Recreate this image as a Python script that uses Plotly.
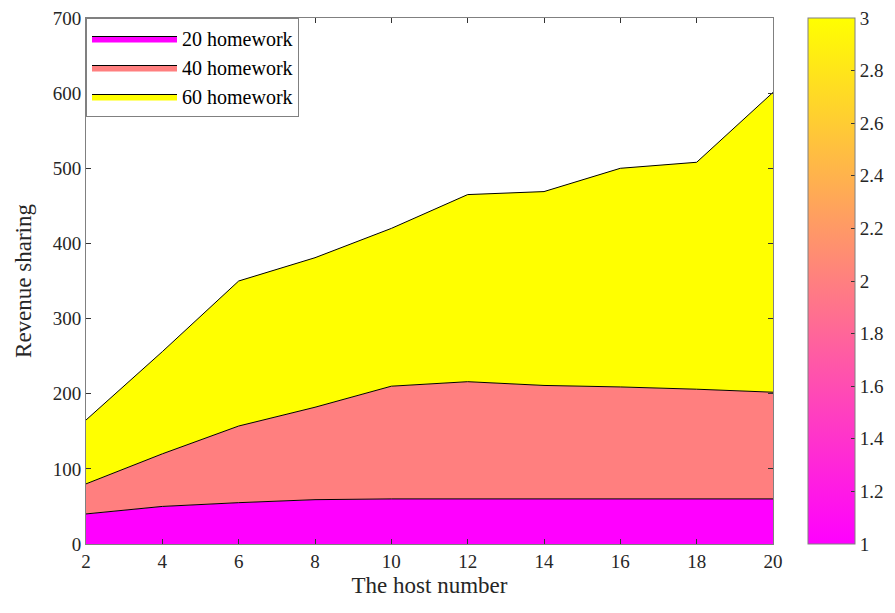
import plotly.graph_objects as go

hosts = [2, 4, 6, 8, 10, 12, 14, 16, 18, 20]
hw20 = [40, 50, 55, 59, 60, 60, 60, 60, 60, 60]
hw40 = [40, 70, 102, 123, 150, 156, 151, 149, 146, 142]
hw60 = [85, 136, 193, 199, 210, 249, 258, 291, 302, 399]
names = ["20 homework", "40 homework", "60 homework"]
colors = ["#FF00FF", "#FF7F7F", "#FFFF00"]
cbar_range = [1, 3]
cbar_ticks = [1, 1.2, 1.4, 1.6, 1.8, 2, 2.2, 2.4, 2.6, 2.8, 3]
x_ticks = [2, 4, 6, 8, 10, 12, 14, 16, 18, 20]
y_ticks = [0, 100, 200, 300, 400, 500, 600, 700]

FONT = "Liberation Serif"
TXT = "#262626"
AX = "#808080"

fig = go.Figure()
for name, vals, col in zip(names, [hw20, hw40, hw60], colors):
    fig.add_trace(go.Scatter(
        x=hosts, y=vals, name=name, mode="lines",
        stackgroup="one", fillcolor=col,
        line=dict(color="black", width=1),
    ))

fig.add_trace(go.Scatter(
    x=[None, None], y=[None, None], mode="markers", showlegend=False,
    marker=dict(
        color=cbar_range, cmin=cbar_range[0], cmax=cbar_range[1],
        colorscale=[[0, "#FF00FF"], [1, "#FFFF00"]], showscale=True,
        colorbar=dict(
            x=1.051, xanchor="left", y=0.5, yanchor="middle",
            len=1.0, lenmode="fraction", thickness=47, xpad=0, ypad=0,
            outlinecolor=AX, outlinewidth=1,
            ticks="inside", ticklen=4, tickcolor="#333333",
            tickvals=cbar_ticks, ticktext=[f"{v:g}" for v in cbar_ticks],
            tickfont=dict(family=FONT, size=19, color=TXT),
            ticklabeloverflow="allow",
        ),
    ),
))

fig.update_layout(
    width=887, height=605,
    margin=dict(l=78, r=122, t=10, b=69, autoexpand=False),
    plot_bgcolor="white", paper_bgcolor="white",
    font=dict(family=FONT, size=19, color=TXT),
    showlegend=True,
    legend=dict(
        x=0.0, y=1.0, xanchor="left", yanchor="top",
        bgcolor="white", bordercolor=AX, borderwidth=1,
        font=dict(family=FONT, size=20, color="#000000"),
        traceorder="normal", tracegroupgap=0, itemwidth=85,
    ),
    xaxis=dict(
        range=[2, 20], tickvals=x_ticks, showgrid=False, zeroline=False,
        showline=True, linecolor=AX, linewidth=1, mirror="ticks",
        ticks="inside", ticklen=5, tickcolor="#333333",
        tickfont=dict(family=FONT, size=19, color=TXT),
        ticklabeloverflow="allow",
        title=dict(text="The host number", font=dict(family=FONT, size=23, color=TXT), standoff=6),
    ),
    yaxis=dict(
        range=[0, 700], tickvals=y_ticks, showgrid=False, zeroline=False,
        showline=True, linecolor=AX, linewidth=1, mirror="ticks",
        ticks="inside", ticklen=5, tickcolor="#333333",
        tickfont=dict(family=FONT, size=19, color=TXT),
        ticklabeloverflow="allow",
        title=dict(text="Revenue sharing", font=dict(family=FONT, size=23, color=TXT), standoff=14),
    ),
)

fig.write_html("out.html")
